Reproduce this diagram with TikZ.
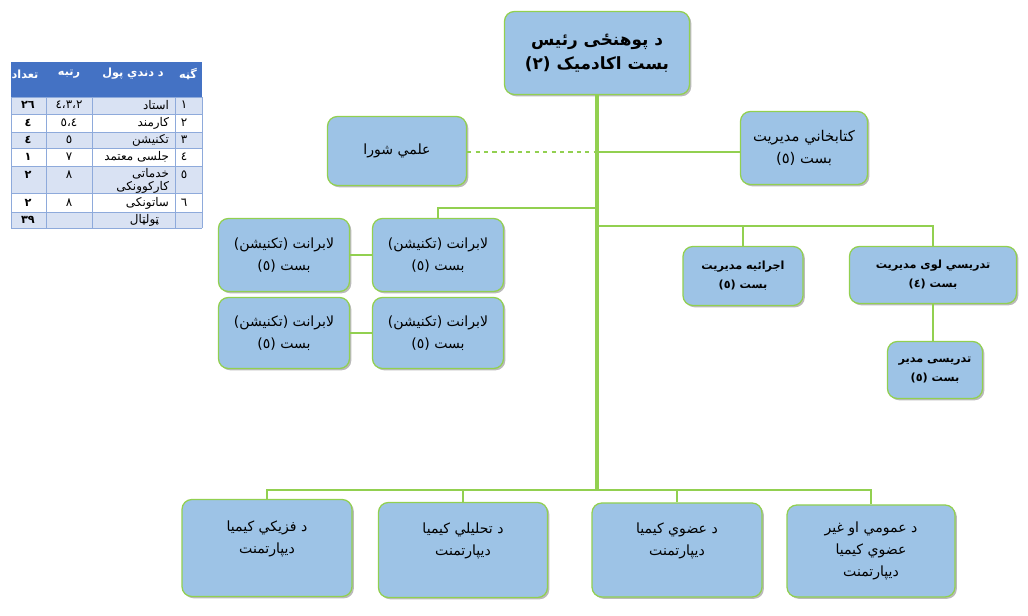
\documentclass[tikz,border=0pt]{standalone}
\usepackage{fontspec}
\newfontfamily\pashto[Script=Arabic]{DejaVu Sans}
\TeXXeTstate=1
\usetikzlibrary{shadows}
\definecolor{boxblue}{RGB}{157,195,230}
\definecolor{linegreen}{RGB}{146,208,80}
\definecolor{headblue}{RGB}{68,114,196}
\definecolor{rowblue}{RGB}{217,226,243}
\definecolor{gridblue}{RGB}{142,170,219}
\newcommand{\rl}[1]{\beginR#1\endR}

\begin{document}
\begin{tikzpicture}[x=0.025cm, y=-0.025cm,
	box/.style={draw=linegreen, fill=boxblue, line width=0.9pt, rounded corners=7pt, align=center, inner sep=1pt,
		font=\pashto\fontsize{10}{15.5}\selectfont,
		drop shadow={shadow xshift=1.3pt, shadow yshift=-1.3pt, fill=black!45, opacity=0.6}},
	bbox/.style={box, font=\pashto\bfseries\fontsize{8}{13.5}\selectfont},
	sz/.style 2 args={minimum width=#1*0.025cm, minimum height=#2*0.025cm},
	link/.style={draw=linegreen, line width=1.5pt},
	cell/.style={font=\pashto\fontsize{8.5}{9.5}\selectfont, inner sep=0.5pt},
	bcell/.style={cell, font=\pashto\bfseries\fontsize{8}{9.5}\selectfont},
	hcell/.style={bcell, text=white}]
	\useasboundingbox (0,0) rectangle (1028,616);
	% Tabelle
	\fill[headblue] (11,62) rectangle (202,97);
	\foreach \ya/\yb in {97/114,132/148,166/193,212/228} \fill[rowblue] (11,\ya) rectangle (202,\yb);
	\foreach \y in {97,114,132,148,166,193,212,228} \draw[gridblue, line width=0.5pt] (11,\y) -- (202,\y);
	\foreach \x in {11,46,92,175,202} \draw[gridblue, line width=0.5pt] (\x,97) -- (\x,228);
	\node[hcell] (h1) at (25,74) {\rl{تعداد}};
	\node[hcell] (h2) at (69,74) {\rl{رتبه}};
	\node[hcell] (h3) at (133,74) {\rl{د دندي پول}};
	\node[hcell] (h4) at (188,74) {\rl{گڼه}};
	\foreach \i/\y/\n/\p/\r/\c in {1/105/١/استاد/٤،٣،٢/٢٦, 2/123/٢/کارمند/٥،٤/٤, 3/140/٣/تکنیشن/٥/٤,
			4/157/٤/جلسی معتمد/٧/١, 6/203/٦/ساتونکی/٨/٢}{
		\node[cell, anchor=west] (n\i) at (180,\y) {\n};
		\node[cell, anchor=east] (p\i) at (170,\y) {\rl{\p}};
		\node[cell] (r\i) at (69,\y) {\r};
		\node[bcell] (c\i) at (28,\y) {\c};
	}
	\node[cell, anchor=west] (n5) at (180,175) {٥};
	\node[cell, anchor=north east, align=right] (p5) at (170,167) {\rl{خدماتی}\\\rl{کارکوونکی}};
	\node[cell] (r5) at (69,175) {٨};
	\node[bcell] (c5) at (28,175) {٢};
	\node[cell, anchor=east] (p7) at (160,220) {\rl{ټولټال}};
	\node[bcell] (c7) at (28,220) {٣٩};
	% Kaesten
	\node[box, sz={185}{83}, font=\pashto\bfseries\fontsize{12}{17}\selectfont] (head) at (597,53)
		{\rl{د پوهنځی رئیس}\\\rl{بست اکادمیک (٢)}};
	\node[box, sz={139}{69}] (shura) at (397,151) {\rl{علمي شورا}};
	\node[box, sz={127}{73}, font=\pashto\fontsize{10.5}{15.5}\selectfont] (lib) at (804,148) {\rl{کتابخاني مدیریت}\\\rl{بست (٥)}};
	\node[box, sz={131}{73}] (labA) at (284,255) {\rl{لابرانت (تکنیشن)}\\\rl{بست (٥)}};
	\node[box, sz={131}{73}] (labB) at (438,255) {\rl{لابرانت (تکنیشن)}\\\rl{بست (٥)}};
	\node[box, sz={131}{71}] (labC) at (284,333) {\rl{لابرانت (تکنیشن)}\\\rl{بست (٥)}};
	\node[box, sz={131}{71}] (labD) at (438,333) {\rl{لابرانت (تکنیشن)}\\\rl{بست (٥)}};
	\node[bbox, sz={120}{59}] (exec) at (743,276) {\rl{اجرائیه مدیریت}\\\rl{بست (٥)}};
	\node[bbox, sz={167}{57}] (teach) at (933,275) {\rl{تدریسي لوی مدیریت}\\\rl{بست (٤)}};
	\node[bbox, sz={95}{57}] (tmgr) at (935,370) {\rl{تدریسی مدیر}\\\rl{بست (٥)}};
	\node[box, sz={170}{97}] (phys) at (267,548) {\rl{د فزیکي کیمیا}\\\rl{دیپارتمنت}\\~};
	\node[box, sz={169}{95}] (analyt) at (463,550) {\rl{د تحلیلي کیمیا}\\\rl{دیپارتمنت}\\~};
	\node[box, sz={170}{94}] (organic) at (677,550) {\rl{د عضوي کیمیا}\\\rl{دیپارتمنت}\\~};
	\node[box, sz={168}{92}] (general) at (871,551) {\rl{د عمومي او غیر}\\\rl{عضوي کیمیا}\\\rl{دیپارتمنت}};
	% Verbindungen
	\coordinate (bus) at (head.south |- 0,490);
	\coordinate (rb) at (head.south |- 0,226);
	\draw[link, line width=2.4pt] (head.south) -- (bus);
	\draw[link] (phys.north) |- (bus) -| (general.north);
	\draw[link] (analyt.north) -- (analyt.north |- bus);
	\draw[link] (organic.north) -- (organic.north |- bus);
	\draw[link] (exec.north) |- (rb) -| (teach.north);
	\draw[link] (teach.south) -- (teach.south |- tmgr.north);
	\draw[link] (labB.north) |- (head.south |- 0,208);
	\draw[link] (lib.west |- 0,152) -- (lib.west |- 0,152 -| head.south);
	\draw[link, dashed, line width=0.9pt] (shura.east |- 0,152) -- (shura.east |- 0,152 -| head.south);
	\draw[link] (labA.east) -- (labB.west);
	\draw[link] (labC.east) -- (labD.west);
\end{tikzpicture}
\end{document}
